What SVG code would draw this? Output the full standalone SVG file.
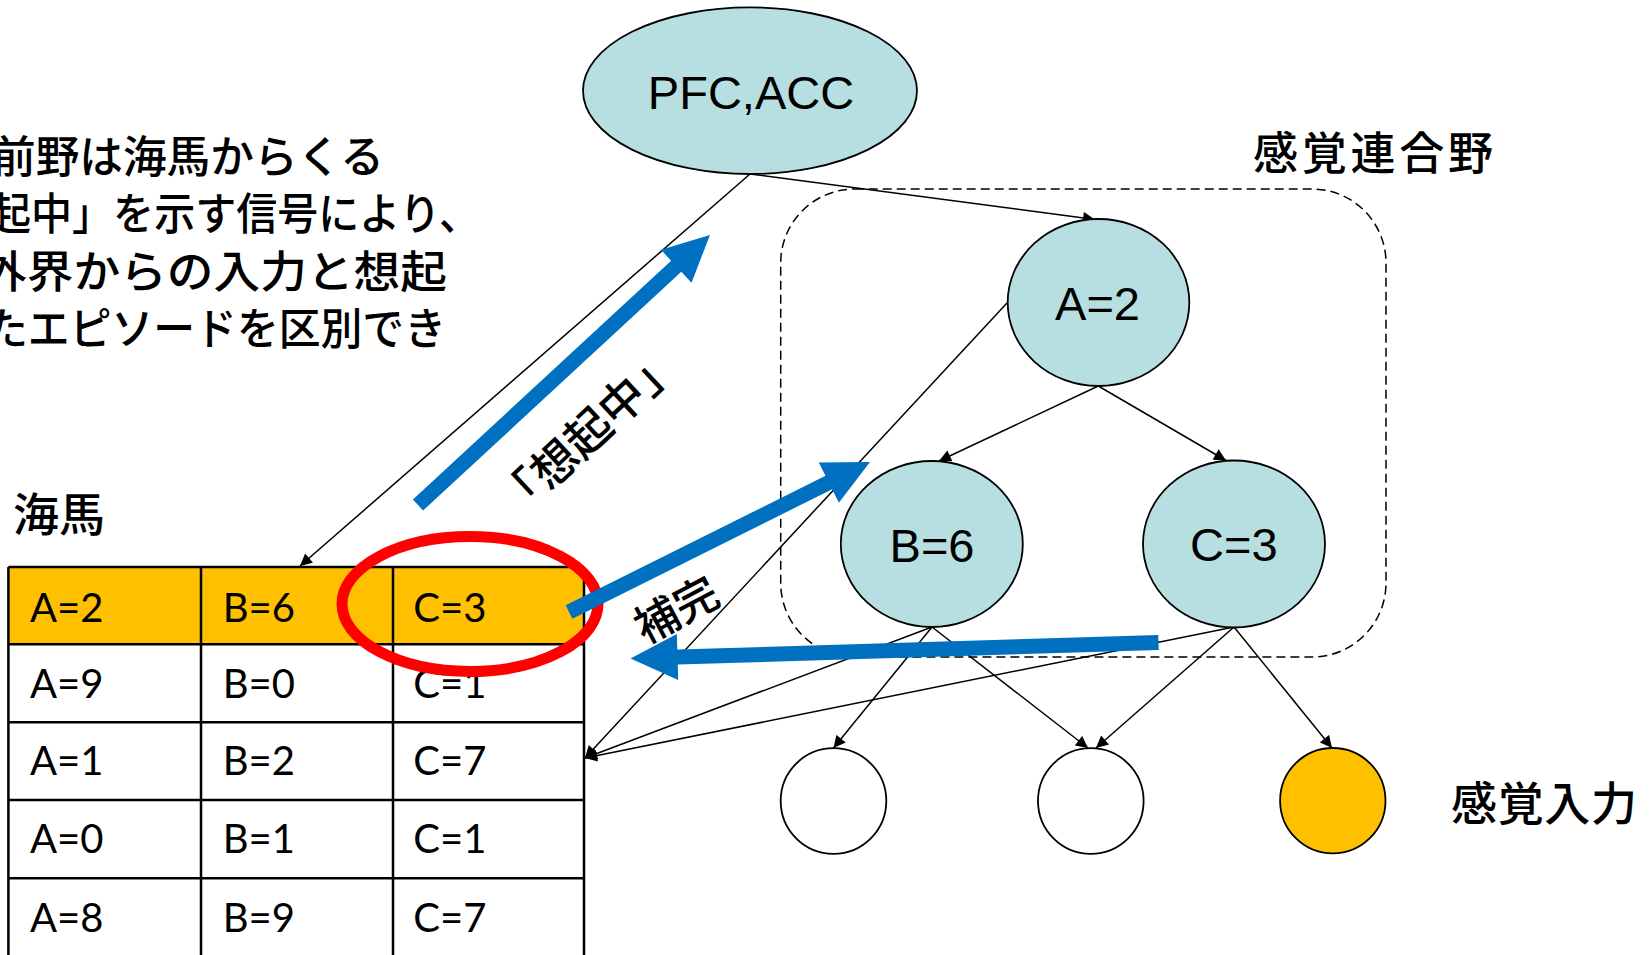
<svg xmlns="http://www.w3.org/2000/svg" width="1652" height="955" viewBox="0 0 1652 955">
<style>
.node{fill:#B7DFE1;stroke:#000;stroke-width:1.8}
.nlab{font-family:"Liberation Sans",Arial,sans-serif;font-size:47px;fill:#000;text-anchor:middle}
.jp{font-family:"Noto Sans CJK JP","Noto Sans",sans-serif;fill:#000;font-weight:500}
.cell{font-family:Lato,"Liberation Sans",sans-serif;font-size:40px;fill:#000}
.grid{stroke:#000;stroke-width:2.5;fill:none}
.edge{stroke:#000;stroke-width:1.5;fill:none;marker-end:url(#ah)}
.blue{fill:#0070C0}
</style>
<defs>
<marker id="ah" viewBox="0 0 12 12" refX="12" refY="6" markerWidth="13" markerHeight="12" markerUnits="userSpaceOnUse" orient="auto"><path d="M0,0 L12,6 L0,12 z" fill="#000"/></marker>
</defs>
<rect width="1652" height="955" fill="#fff"/>

<g id="desc-text" class="jp" font-size="44">
<text x="-8" y="173" textLength="392" lengthAdjust="spacingAndGlyphs">前野は海馬からくる</text>
<text x="-10" y="230" textLength="490" lengthAdjust="spacingAndGlyphs">起中」を示す信号により、</text>
<text x="-20" y="288" textLength="467" lengthAdjust="spacingAndGlyphs">外界からの入力と想起</text>
<text x="-14" y="345" textLength="460" lengthAdjust="spacingAndGlyphs">たエピソードを区別でき</text>
</g>

<g id="assoc-box">
<rect x="780.7" y="189" width="605.3" height="468" rx="74" ry="74" fill="none" stroke="#000" stroke-width="1.5" stroke-dasharray="9 5"/>
<text class="jp" x="1253" y="170" font-size="45" textLength="240">感覚連合野</text>
</g>

<g id="table">
<rect x="8.4" y="567" width="575.6" height="77.3" fill="#FFC000"/>
<path class="grid" d="M8.4,567 V960 M201,567 V960 M393,567 V960 M584,567 V960 M8.4,567 H584 M8.4,644.3 H584 M8.4,722.3 H584 M8.4,800 H584 M8.4,878.3 H584"/>
<g class="cell">
<text x="30" y="621.7">A=2</text><text x="222.7" y="621.7">B=6</text><text x="413.3" y="621.7">C=3</text>
<text x="30" y="698.3">A=9</text><text x="222.7" y="698.3">B=0</text><text x="413.3" y="698.3">C=1</text>
<text x="30" y="775">A=1</text><text x="222.7" y="775">B=2</text><text x="413.3" y="775">C=7</text>
<text x="30" y="853.3">A=0</text><text x="222.7" y="853.3">B=1</text><text x="413.3" y="853.3">C=1</text>
<text x="30" y="931.7">A=8</text><text x="222.7" y="931.7">B=9</text><text x="413.3" y="931.7">C=7</text>
</g>
<text class="jp" x="13" y="531" font-size="46">海馬</text>
</g>

<g id="connectors">
<line class="edge" x1="750" y1="174" x2="1095" y2="219.5"/>
<line class="edge" x1="750" y1="174" x2="300" y2="566"/>
<line class="edge" x1="1098.3" y1="386" x2="939" y2="461"/>
<line class="edge" x1="1098.3" y1="386" x2="1226" y2="460.5"/>
<line class="edge" x1="1007" y1="303" x2="585" y2="758"/>
<line class="edge" x1="932" y1="627" x2="585" y2="758"/>
<line class="edge" x1="1234" y1="627" x2="585" y2="758"/>
<line class="edge" x1="932" y1="627" x2="833.5" y2="748"/>
<line class="edge" x1="932" y1="627" x2="1088" y2="748"/>
<line class="edge" x1="1234" y1="627" x2="1096" y2="748"/>
<line class="edge" x1="1234" y1="627" x2="1332" y2="748"/>
</g>

<g id="PFC">
<ellipse class="node" cx="750" cy="90.7" rx="167" ry="83.3"/>
<text class="nlab" x="751" y="109">PFC,ACC</text>
</g>
<g id="A">
<ellipse class="node" cx="1098.5" cy="302.5" rx="90.8" ry="83.5"/>
<text class="nlab" x="1097.5" y="320">A=2</text>
</g>
<g id="B">
<ellipse class="node" cx="931.8" cy="544" rx="91" ry="83"/>
<text class="nlab" x="932" y="561.7">B=6</text>
</g>
<g id="C">
<ellipse class="node" cx="1234" cy="544" rx="91" ry="83.5"/>
<text class="nlab" x="1233.8" y="561">C=3</text>
</g>
<g id="S1"><circle cx="833.5" cy="801" r="52.8" fill="#fff" stroke="#000" stroke-width="1.8"/></g>
<g id="S2"><circle cx="1090.8" cy="801" r="52.8" fill="#fff" stroke="#000" stroke-width="1.8"/></g>
<g id="S3"><circle cx="1332.8" cy="800.7" r="52.7" fill="#FFC000" stroke="#000" stroke-width="1.8"/></g>
<g id="sensory-label"><text class="jp" x="1451" y="820" font-size="46" textLength="186">感覚入力</text></g>

<g id="highlight">
<ellipse cx="470" cy="604" rx="128" ry="67.5" fill="none" stroke="#FF0000" stroke-width="11"/>
</g>

<g id="blue-arrows">
<path class="blue" transform="translate(418,505) rotate(-42.76)" d="M0,-7.5 H351.7 V-22.5 L397.7,0 L351.7,22.5 V7.5 H0 Z"/>
<path class="blue" transform="translate(569,612) rotate(-26.49)" d="M0,-7.5 H290.3 V-22.5 L336.3,0 L290.3,22.5 V7.5 H0 Z"/>
<path class="blue" transform="translate(1158.5,642.5) rotate(178.26)" d="M0,-7.5 H481.2 V-23 L528.2,0 L481.2,23 V7.5 H0 Z"/>
<text class="jp" font-size="46" text-anchor="middle" dominant-baseline="central" transform="translate(586,430) rotate(-43)">「想起中」</text>
<text class="jp" font-size="44" text-anchor="middle" dominant-baseline="central" transform="translate(675,607) rotate(-28)">補完</text>
</g>
</svg>
